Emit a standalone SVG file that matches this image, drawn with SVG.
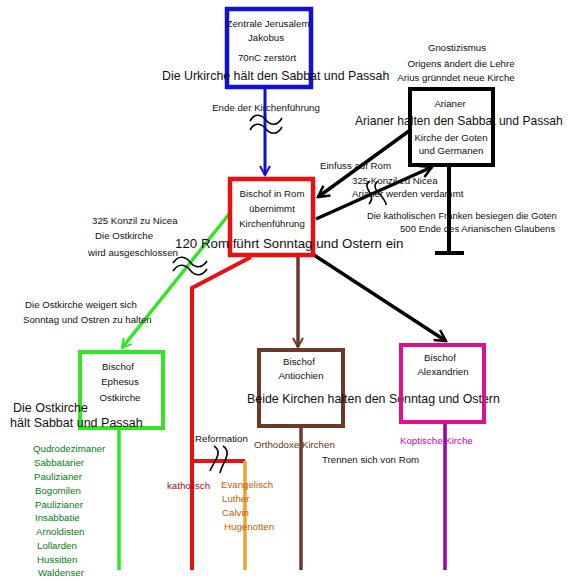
<svg xmlns="http://www.w3.org/2000/svg" width="571" height="581" viewBox="0 0 571 581">
<style>
text{font-family:"Liberation Sans",Arial,sans-serif;fill:#111}
.s{font-size:9.7px}
.b{font-size:12.5px}
.m{text-anchor:middle}
.box{fill:none}
.sq{fill:none;stroke:#000;stroke-width:1.6}
</style>
<defs>
<marker id="ab" markerWidth="12" markerHeight="12" refX="10" refY="6" orient="auto" markerUnits="userSpaceOnUse"><path d="M1,1 L10,6 L1,11" fill="none" stroke="#1010d8" stroke-width="2"/></marker>
<marker id="ak" markerWidth="14" markerHeight="14" refX="12" refY="7" orient="auto" markerUnits="userSpaceOnUse"><path d="M1,1 L12,7 L1,13" fill="none" stroke="#000" stroke-width="2.5"/></marker>
<marker id="ag" markerWidth="12" markerHeight="12" refX="10" refY="6" orient="auto" markerUnits="userSpaceOnUse"><path d="M1,1 L10,6 L1,11" fill="none" stroke="#33e622" stroke-width="2"/></marker>
<marker id="an" markerWidth="12" markerHeight="12" refX="10" refY="6" orient="auto" markerUnits="userSpaceOnUse"><path d="M1,1 L10,6 L1,11" fill="none" stroke="#6e3828" stroke-width="2"/></marker>
</defs>
<rect width="571" height="581" fill="#fff"/>
<g id="connectors">
<line x1="265" y1="88" x2="265" y2="175" stroke="#1010d8" stroke-width="3" marker-end="url(#ab)"/>
<line x1="230" y1="213" x2="122" y2="348" stroke="#33e622" stroke-width="3.5" marker-end="url(#ag)"/>
<line x1="119" y1="429" x2="119" y2="570" stroke="#33e622" stroke-width="3.5"/>
<line x1="298" y1="256" x2="298" y2="347" stroke="#6e3828" stroke-width="3.5" marker-end="url(#an)"/>
<line x1="301" y1="428" x2="301" y2="570" stroke="#6e3828" stroke-width="3.5"/>
<line x1="314" y1="255" x2="446" y2="341" stroke="#000" stroke-width="3.5" marker-end="url(#ak)"/>
<line x1="445" y1="423" x2="445" y2="570" stroke="#a000a8" stroke-width="3.5"/>
<line x1="409" y1="131" x2="318" y2="197" stroke="#000" stroke-width="3.5" marker-end="url(#ak)"/>
<line x1="316" y1="219" x2="432" y2="167" stroke="#000" stroke-width="3.5" marker-end="url(#ak)"/>
<line x1="449" y1="166" x2="449" y2="253" stroke="#000" stroke-width="4"/>
<line x1="435" y1="253" x2="464" y2="253" stroke="#000" stroke-width="4"/>
<polyline points="251,257 192,288 192,570" fill="none" stroke="#e81010" stroke-width="4"/>
<line x1="192" y1="461" x2="245" y2="461" stroke="#e81010" stroke-width="4"/>
<line x1="245" y1="461" x2="245" y2="570" stroke="#f0a030" stroke-width="3.5"/>
<path class="sq" d="M250,121 C255,112 262,115 266,120 C270,125 277,127 282,118"/>
<path class="sq" d="M250,130 C255,121 262,124 266,129 C270,134 277,136 282,127"/>
<path class="sq" d="M173,263 C179,254 186,257 190,262 C194,267 201,270 207,261"/>
<path class="sq" d="M173,271 C179,262 186,265 190,270 C194,275 201,278 207,269"/>
<path class="sq" d="M370,181 C360,188 378,194 369,204"/>
<path class="sq" d="M378,181 C368,189 386,196 386,205"/>
<path class="sq" d="M214,446 C224,453 213,462 210,471"/>
<path class="sq" d="M223,446 C233,453 222,463 220,473"/>
</g>
<g id="jerusalem">
<rect class="box" x="227" y="9" width="84" height="78" stroke="#1010d8" stroke-width="4.5"/>
<text class="s m" x="268" y="27">Zentrale Jerusalem</text>
<text class="s m" x="266" y="41">Jakobus</text>
<text class="s m" x="267" y="61">70nC zerstört</text>
</g>
<text class="b" x="162" y="80" style="font-size:12.4px">Die Urkirche hält den Sabbat und Passah</text>
<text class="s m" x="266" y="111">Ende der Kirchenführung</text>
<g id="arianer">
<rect class="box" x="410" y="89" width="83" height="76" stroke="#000" stroke-width="4"/>
<text class="s m" x="450" y="107">Arianer</text>
<text class="s m" x="451" y="141">Kirche der Goten</text>
<text class="s m" x="451" y="154">und Germanen</text>
</g>
<text class="b" x="355" y="125" style="font-size:12.1px">Arianer halten den Sabbat und Passah</text>
<text class="s m" x="457" y="51">Gnostizismus</text>
<text class="s m" x="461" y="67">Origens ändert die Lehre</text>
<text class="s m" x="456" y="81">Arius grünndet neue Kirche</text>
<text class="s" x="320" y="169">Einfuss auf Rom</text>
<text class="s" x="352" y="184">325 Konzil zu Nicea</text>
<text class="s" x="352" y="197">Arianer werden verdammt</text>
<text class="s" x="367" y="219" style="font-size:9.4px">Die katholischen Franken besiegen die Goten</text>
<text class="s" x="400" y="232" style="font-size:9.6px">500 Ende des Arianischen Glaubens</text>
<g id="rom">
<rect class="box" x="230" y="179" width="83" height="76" stroke="#e81010" stroke-width="4.5"/>
<text class="s m" x="272" y="197">Bischof in Rom</text>
<text class="s m" x="272" y="212">übernimmt</text>
<text class="s m" x="272" y="227">Kirchenführung</text>
</g>
<text class="b" x="175" y="248" style="font-size:13.3px">120 Rom führt  Sonntag und Ostern ein</text>
<text class="s" x="92" y="224">325 Konzil zu Nicea</text>
<text class="s" x="95" y="239">Die Ostkirche</text>
<text class="s" x="88" y="256">wird ausgeschlossen</text>
<text class="s" x="25" y="308">Die Ostkirche weigert sich</text>
<text class="s" x="23" y="323">Sonntag und Ostren zu halten</text>
<g id="ephesus">
<rect class="box" x="80" y="352" width="83" height="76" stroke="#33e622" stroke-width="4"/>
<text class="s m" x="118" y="370">Bischof</text>
<text class="s m" x="120" y="385">Ephesus</text>
<text class="s m" x="120" y="401">Ostkirche</text>
</g>
<text class="b" x="13" y="412">Die Ostkirche</text>
<text class="b" x="10" y="427">hält Sabbat und Passah</text>
<g id="list">
<text class="s" x="33" y="452" style="fill:#008010">Qudrodezimaner</text>
<text class="s" x="34" y="466" style="fill:#008010">Sabbatarier</text>
<text class="s" x="34" y="480" style="fill:#008010">Paulizianer</text>
<text class="s" x="35" y="494" style="fill:#008010">Bogomilen</text>
<text class="s" x="35" y="508" style="fill:#008010">Paulizianer</text>
<text class="s" x="35" y="521" style="fill:#008010">Insabbatie</text>
<text class="s" x="36" y="535" style="fill:#008010">Arnoldisten</text>
<text class="s" x="37" y="549" style="fill:#008010">Lollarden</text>
<text class="s" x="37" y="563" style="fill:#008010">Hussitten</text>
<text class="s" x="38" y="576" style="fill:#008010">Waldenser</text>
</g>
<g id="antiochien">
<rect class="box" x="259" y="350" width="84" height="76" stroke="#6e3828" stroke-width="4"/>
<text class="s m" x="299" y="365">Bischof</text>
<text class="s m" x="301" y="379">Antiochien</text>
</g>
<text class="b" x="247" y="403" style="font-size:12.4px">Beide Kirchen  halten den Sonntag und Ostern</text>
<g id="alexandrien">
<rect class="box" x="401" y="345" width="83" height="77" stroke="#e0108a" stroke-width="4"/>
<text class="s m" x="440" y="361">Bischof</text>
<text class="s m" x="443" y="375">Alexandrien</text>
</g>
<text class="s" x="400" y="444" style="fill:#c000c0">Koptische Kirche</text>
<text class="s" x="254" y="448" style="fill:#6e3010">Orthodoxe Kirchen</text>
<text class="s" x="322" y="463">Trennen sich von Rom</text>
<text class="s" x="195" y="442">Reformation</text>
<text class="s" x="167" y="489" style="fill:#a01010">katholisch</text>
<g id="evangelisch">
<text class="s" x="221" y="488" style="fill:#c06000">Evangelisch</text>
<text class="s" x="222" y="502" style="fill:#c06000">Luther</text>
<text class="s" x="222" y="516" style="fill:#c06000">Calvin</text>
<text class="s" x="224" y="530" style="fill:#c06000">Hugenotten</text>
</g>
</svg>
